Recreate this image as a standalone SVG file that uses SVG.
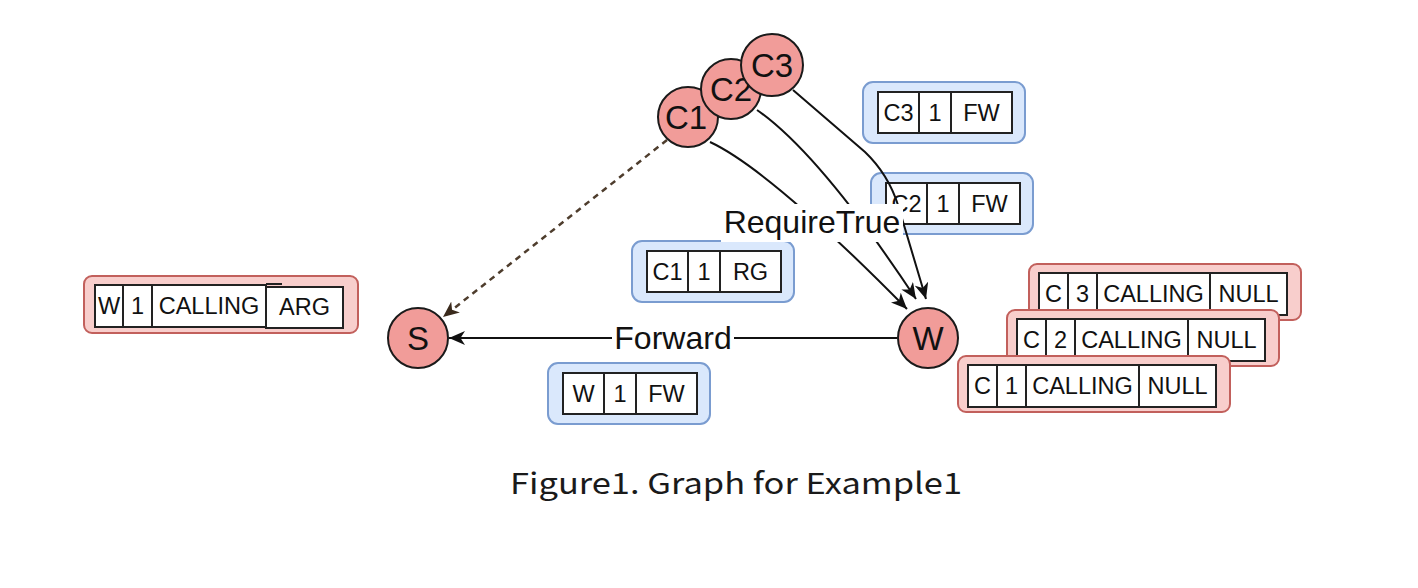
<svg xmlns="http://www.w3.org/2000/svg" width="1418" height="588" viewBox="0 0 1418 588">
<style>
.bbox{fill:#dae8fc;stroke:#7a9cd0;stroke-width:2}
.rbox{fill:#f8cecc;stroke:#c2605c;stroke-width:2}
.cell{fill:#ffffff;stroke:#222;stroke-width:2}
.div{stroke:#222;stroke-width:2}
.ct{font-family:"Liberation Sans",Arial,sans-serif;font-size:23.5px;fill:#111;text-anchor:middle}
.circ{fill:#f19c99;stroke:#1a1a1a;stroke-width:2}
.nt{font-family:"Liberation Sans",Arial,sans-serif;font-size:33px;fill:#111;text-anchor:middle}
.edge{fill:none;stroke:#111;stroke-width:2}
.dash{fill:none;stroke:#4e3d2d;stroke-width:2.5;stroke-dasharray:6 5}
.lbl{font-family:"Liberation Sans",Arial,sans-serif;font-size:32px;fill:#111;text-anchor:middle}
.cap{font-family:"Noto Sans CJK SC","Noto Sans",sans-serif;font-size:29px;font-weight:400;fill:#1a1a1a}
</style>
<defs>
<marker id="ah" markerUnits="userSpaceOnUse" markerWidth="16" markerHeight="14" viewBox="0 0 16 14" refX="16" refY="7" orient="auto">
<path d="M0,0 L16,7 L0,14 L4.5,7 Z" fill="#111"/>
</marker>
<marker id="ahb" markerUnits="userSpaceOnUse" markerWidth="16" markerHeight="14" viewBox="0 0 16 14" refX="16" refY="7" orient="auto">
<path d="M0,0 L16,7 L0,14 L4.5,7 Z" fill="#3a2a1c"/>
</marker>
</defs>
<rect width="1418" height="588" fill="#ffffff"/>

<!-- left W record -->
<g id="rec-W">
<rect class="rbox" x="84" y="276" width="274" height="57" rx="8"/>
<rect class="cell" x="95" y="285" width="171" height="42"/>
<line class="div" x1="123" y1="285" x2="123" y2="327"/>
<line class="div" x1="152" y1="285" x2="152" y2="327"/>
<line class="div" x1="266" y1="284" x2="282" y2="284"/>
<rect class="cell" x="266" y="287" width="77" height="41"/>
<text class="ct" x="109" y="314">W</text>
<text class="ct" x="137.5" y="314">1</text>
<text class="ct" x="209" y="314">CALLING</text>
<text class="ct" x="304.5" y="315">ARG</text>
</g>

<!-- right stacked records -->
<g id="rec-C3">
<rect class="rbox" x="1029" y="264" width="272" height="56" rx="8"/>
<rect class="cell" x="1039" y="273" width="248" height="42"/>
<line class="div" x1="1068" y1="273" x2="1068" y2="315"/>
<line class="div" x1="1097" y1="273" x2="1097" y2="315"/>
<line class="div" x1="1210" y1="273" x2="1210" y2="315"/>
<text class="ct" x="1053.5" y="302">C</text>
<text class="ct" x="1082.5" y="302">3</text>
<text class="ct" x="1153.5" y="302">CALLING</text>
<text class="ct" x="1248.5" y="302">NULL</text>
</g>
<g id="rec-C2">
<rect class="rbox" x="1007" y="310" width="272" height="56" rx="8"/>
<rect class="cell" x="1017" y="319" width="248" height="42"/>
<line class="div" x1="1046" y1="319" x2="1046" y2="361"/>
<line class="div" x1="1075" y1="319" x2="1075" y2="361"/>
<line class="div" x1="1188" y1="319" x2="1188" y2="361"/>
<text class="ct" x="1031.5" y="348">C</text>
<text class="ct" x="1060.5" y="348">2</text>
<text class="ct" x="1131.5" y="348">CALLING</text>
<text class="ct" x="1226.5" y="348">NULL</text>
</g>
<g id="rec-C1">
<rect class="rbox" x="958" y="356" width="272" height="56" rx="8"/>
<rect class="cell" x="968" y="365" width="248" height="42"/>
<line class="div" x1="997" y1="365" x2="997" y2="407"/>
<line class="div" x1="1026" y1="365" x2="1026" y2="407"/>
<line class="div" x1="1139" y1="365" x2="1139" y2="407"/>
<text class="ct" x="982.5" y="394">C</text>
<text class="ct" x="1011.5" y="394">1</text>
<text class="ct" x="1082.5" y="394">CALLING</text>
<text class="ct" x="1177.5" y="394">NULL</text>
</g>

<!-- blue message boxes -->
<g id="msg-C3">
<rect class="bbox" x="863" y="82" width="162" height="61" rx="10"/>
<rect class="cell" x="878" y="92" width="134" height="41"/>
<line class="div" x1="919" y1="92" x2="919" y2="133"/>
<line class="div" x1="951" y1="92" x2="951" y2="133"/>
<text class="ct" x="898.5" y="121">C3</text>
<text class="ct" x="935" y="121">1</text>
<text class="ct" x="981.5" y="121">FW</text>
</g>
<g id="msg-C2">
<rect class="bbox" x="871" y="173" width="162" height="61" rx="10"/>
<rect class="cell" x="886" y="183" width="134" height="41"/>
<line class="div" x1="927" y1="183" x2="927" y2="224"/>
<line class="div" x1="959" y1="183" x2="959" y2="224"/>
<text class="ct" x="906.5" y="212">C2</text>
<text class="ct" x="943" y="212">1</text>
<text class="ct" x="989.5" y="212">FW</text>
</g>
<g id="msg-C1">
<rect class="bbox" x="632" y="241" width="162" height="61" rx="10"/>
<rect class="cell" x="647" y="251" width="134" height="41"/>
<line class="div" x1="688" y1="251" x2="688" y2="292"/>
<line class="div" x1="720" y1="251" x2="720" y2="292"/>
<text class="ct" x="667.5" y="280">C1</text>
<text class="ct" x="704" y="280">1</text>
<text class="ct" x="750.5" y="280">RG</text>
</g>
<g id="msg-W">
<rect class="bbox" x="548" y="363" width="162" height="61" rx="10"/>
<rect class="cell" x="563" y="373" width="134" height="41"/>
<line class="div" x1="604" y1="373" x2="604" y2="414"/>
<line class="div" x1="636" y1="373" x2="636" y2="414"/>
<text class="ct" x="583.5" y="402">W</text>
<text class="ct" x="620" y="402">1</text>
<text class="ct" x="666.5" y="402">FW</text>
</g>

<!-- connectors -->
<g id="connectors">
<path class="dash" d="M667,140 L443,317" marker-end="url(#ahb)"/>
<path class="edge" d="M897,338 L449,338" marker-end="url(#ah)"/>
<path class="edge" d="M710,142 Q770,170 907,309" marker-end="url(#ah)"/>
<path class="edge" d="M757,110 Q820,154 916,299" marker-end="url(#ah)"/>
<path class="edge" d="M793,90 L865,152 Q888,174 898,205 L926,299" marker-end="url(#ah)"/>
<rect x="612" y="322" width="122" height="33" fill="#ffffff"/>
<text class="lbl" x="673" y="349">Forward</text>
<rect x="721" y="204" width="182" height="38" fill="#ffffff"/>
<text class="lbl" x="812" y="233">RequireTrue</text>
</g>

<!-- circle nodes -->
<g id="node-S">
<circle class="circ" cx="418" cy="338" r="30"/>
<text class="nt" x="418" y="350">S</text>
</g>
<g id="node-W">
<circle class="circ" cx="928" cy="338" r="30"/>
<text class="nt" x="928" y="350">W</text>
</g>
<g id="node-C1">
<circle class="circ" cx="688" cy="117" r="30"/>
<text class="nt" x="686" y="129">C1</text>
</g>
<g id="node-C2">
<circle class="circ" cx="731" cy="89" r="30"/>
<text class="nt" x="731" y="101">C2</text>
</g>
<g id="node-C3">
<circle class="circ" cx="772" cy="65" r="31"/>
<text class="nt" x="772" y="77">C3</text>
</g>

<text class="cap" x="510" y="494" textLength="452" lengthAdjust="spacingAndGlyphs">Figure1. Graph for Example1</text>
</svg>
